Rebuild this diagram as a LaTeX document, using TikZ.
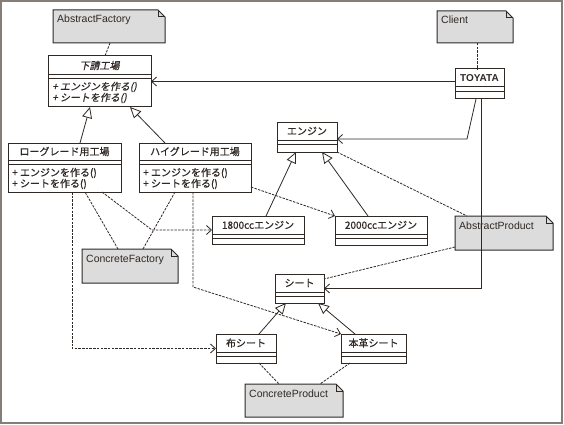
\documentclass[tikz,border=0pt]{standalone}
\usepackage{fontspec}
\setmainfont{Liberation Sans}
\newfontfamily\cjk{Noto Sans CJK JP}[FakeBold=0.6]
\newfontfamily\cjkit{Noto Sans CJK JP}[FakeSlant=0.2,FakeBold=0.6]
\usetikzlibrary{arrows.meta,calc}
\definecolor{ink}{HTML}{2F2925}
\definecolor{notefill}{HTML}{DCDCDC}
\definecolor{framecol}{HTML}{857D78}
\tikzset{
  clsbox/.style={draw=ink, line width=1pt, fill=white, inner sep=0pt, outer sep=0pt, rectangle},
  boxline/.style={draw=ink, line width=1pt},
  clstitle/.style={inner sep=0pt, font=\cjk\fontsize{10}{12}\selectfont, text=ink},
  methtext/.style={inner sep=0pt, anchor=west, font=\cjk\fontsize{10}{12}\selectfont, text=ink},
  notebox/.style={inner sep=0pt, outer sep=0pt, rectangle},
  notefold/.style={fill=notefill, draw=ink, line width=1pt},
  notetext/.style={inner sep=0pt, font=\fontsize{10.5}{12}\selectfont, text=ink},
  conn/.style={draw=ink, line width=0.8pt},
  gen/.style={conn, -{Triangle[length=11pt,width=10pt,fill=white]}},
  assoc/.style={conn, -{Straight Barb[length=5pt,width=9pt]}},
  dep/.style={conn, dash pattern=on 2.5pt off 1.2pt, -{Straight Barb[length=5pt,width=9pt]}},
  notelink/.style={conn, dash pattern=on 2.5pt off 1.2pt},
}
\newcommand\umlclass[8]{%
  \node[clsbox, minimum width={(#4-#2)*1pt}, minimum height={(#5-#3)*1pt}] (#1) at ({(#2+#4)/2},{(#3+#5)/2}) {};
  \draw[boxline] (#2,#6) -- (#4,#6) (#2,#7) -- (#4,#7);
  \node[clstitle] (#1-title) at ({(#2+#4)/2},{(#3+#6)/2}) {#8};
}
\newcommand\umlnote[6]{%
  \node[notebox, minimum width={(#4-#2)*1pt}, minimum height={(#5-#3)*1pt}] (#1) at ({(#2+#4)/2},{(#3+#5)/2}) {};
  \path[notefold] (#1.north west) -- ([xshift=-7pt]#1.north east) -- ([yshift=-7pt]#1.north east) -- (#1.south east) -- (#1.south west) -- cycle;
  \draw[boxline] ([xshift=-7pt]#1.north east) |- ([yshift=-7pt]#1.north east);
  \node[notetext, anchor=base west] (#1-text) at ([xshift=4pt,yshift=-13pt]#1.north west) {#6};
}
\begin{document}
\begin{tikzpicture}[x=1pt,y=-1pt]
\useasboundingbox (0,0) rectangle (564,425);
\fill[white] (0,0) rectangle (564,425);
\draw[framecol, line width=1.6pt] (1,1) rectangle (562.2,423.2);

% classes
\umlclass{sub}{48}{56}{151}{107}{75}{79}{\cjkit 下請工場}
\umlclass{low}{8}{143}{121}{192}{160}{164}{ローグレード用工場}
\umlclass{high}{139}{143}{251}{192}{160}{164}{ハイグレード用工場}
\umlclass{toyata}{455}{69}{504}{99}{87}{92}{\normalfont\bfseries TOYATA}
\umlclass{eng}{277}{122}{337}{152}{140}{144}{エンジン}
\umlclass{eA}{212}{216}{304}{244}{234}{238}{1800ccエンジン}
\umlclass{eB}{335}{216}{427}{245}{234}{238}{2000ccエンジン}
\umlclass{seat}{275}{274}{324}{303}{292}{296}{シート}
\umlclass{nuno}{216}{334}{276}{363}{352}{356}{布シート}
\umlclass{honkawa}{341}{334}{406}{363}{352}{356}{本革シート}

% methods
\node[methtext] (sub-m1) at (52,87) {\cjkit + エンジンを作る()};
\node[methtext] (sub-m2) at (52,98) {\cjkit + シートを作る()};
\node[methtext] (low-m1) at (12,173) {+ エンジンを作る()};
\node[methtext] (low-m2) at (12,184) {+ シートを作る()};
\node[methtext] (high-m1) at (143,173) {+ エンジンを作る()};
\node[methtext] (high-m2) at (143,184) {+ シートを作る()};

% notes
\umlnote{afnote}{53}{10}{165}{43}{AbstractFactory}
\umlnote{clnote}{437}{11}{513}{43}{Client}
\umlnote{cfnote}{82}{249}{178}{283}{ConcreteFactory}
\umlnote{apnote}{455}{216}{553}{250}{AbstractProduct}
\umlnote{cpnote}{245}{384}{343}{417}{ConcreteProduct}

% associations
\draw[assoc] (toyata.west |- sub.east) -- (sub.east);
\coordinate (tbend) at (467,139);
\draw[assoc] ([xshift=-3.5pt]toyata.south) -- (tbend) -- (tbend -| eng.east);
\draw[assoc] ([xshift=1.5pt]toyata.south) |- (seat.east);

% generalizations
\draw[gen] ([xshift=15.5pt]low.north) -- ([xshift=-9.5pt]sub.south);
\draw[gen] ([xshift=-30pt]high.north) -- ([xshift=30.5pt]sub.south);
\draw[gen] ([xshift=8pt]eA.north) -- ([xshift=-11pt]eng.south);
\draw[gen] ([xshift=-13pt]eB.north) -- ([xshift=15pt]eng.south);
\draw[gen] ([xshift=13pt]nuno.north) -- ([xshift=-13.5pt]seat.south);
\draw[gen] ([xshift=-18.5pt]honkawa.north) -- ([xshift=18.5pt]seat.south);

% dependencies
\coordinate (lbend) at (152,230);
\draw[dep] ([xshift=37.5pt]low.south) -- (lbend) -- (eA.west);
\draw[dep] ([xshift=7.5pt]low.south) |- (nuno.west);
\draw[dep] ([yshift=-19.5pt]high.east) -- (eB.north west);
\coordinate (hbend) at (193,287);
\draw[dep] ([xshift=-2pt]high.south) -- (hbend) -- (honkawa.north west);

% note links
\draw[notelink] ([xshift=1pt]afnote.south) -- ([xshift=5.5pt]sub.north);
\draw[notelink] ([xshift=2pt]clnote.south) -- ([xshift=-2.5pt]toyata.north);
\draw[notelink] ([xshift=-12pt]cfnote.north) -- ([xshift=20.5pt]low.south);
\draw[notelink] ([xshift=13pt]cfnote.north) -- ([xshift=-20pt]high.south);
\draw[notelink] (eng.south east) -- ([xshift=12pt]apnote.north west);
\draw[notelink] ([yshift=3pt]apnote.south west) -- ([yshift=-5pt]seat.north east);
\draw[notelink] ([xshift=13pt]nuno.south) -- ([xshift=-15pt]cpnote.north);
\draw[notelink] ([xshift=-23.5pt]honkawa.south) -- ([xshift=26pt]cpnote.north);
\end{tikzpicture}
\end{document}
